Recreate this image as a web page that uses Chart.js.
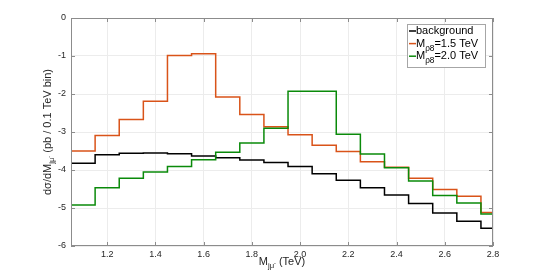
<!DOCTYPE html>
<html>
<head>
<meta charset="utf-8">
<script src="https://cdn.jsdelivr.net/npm/chart.js@4"></script>
<style>
  body { margin: 0; background: #fff; }
  #wrap { width: 545px; height: 278px; }
</style>
</head>
<body>
<div id="wrap"><canvas id="c" width="545" height="278"></canvas></div>
<script>
// bin edges (TeV); each value holds from its edge to the next one
const binEdges = [1.05, 1.15, 1.25, 1.35, 1.45, 1.55, 1.65, 1.75, 1.85, 1.95,
                  2.05, 2.15, 2.25, 2.35, 2.45, 2.55, 2.65, 2.75];
const xEnd = 2.8;

const background = [-3.82, -3.60, -3.56, -3.55, -3.57, -3.63, -3.68, -3.74, -3.80,
                    -3.91, -4.10, -4.27, -4.47, -4.66, -4.88, -5.13, -5.35, -5.53];
const rho15 = [-3.50, -3.09, -2.67, -2.19, -0.99, -0.94, -2.08, -2.54, -2.86,
               -3.07, -3.35, -3.51, -3.78, -3.93, -4.22, -4.51, -4.69, -5.12];
const rho20 = [-4.92, -4.47, -4.22, -4.05, -3.91, -3.73, -3.53, -3.29, -2.90,
               -1.93, -1.93, -3.06, -3.58, -3.94, -4.29, -4.67, -4.87, -5.16];

const xTicks = [1.2, 1.4, 1.6, 1.8, 2.0, 2.2, 2.4, 2.6, 2.8];
const yTicks = [-6, -5, -4, -3, -2, -1, 0];

const FONT = "'Liberation Sans', Arial, sans-serif";
const AXIS = "#8c8c8c";

function steps(vals) {
    const pts = binEdges.map((x, i) => ({ x, y: vals[i] }));
    pts.push({ x: xEnd, y: vals[vals.length - 1] });
    return pts;
}

// draws text pieces like "M" + subscript, left to right
function drawRich(ctx, parts, x, y, size) {
    let cx = x;
    parts.forEach(p => {
        const s = size * (p.scale || 1);
        ctx.font = s + "px " + FONT;
        ctx.fillText(p.t, cx, y + (p.dy || 0));
        cx += ctx.measureText(p.t).width;
    });
    return cx - x;
}
function richWidth(ctx, parts, size) {
    let w = 0;
    parts.forEach(p => {
        ctx.font = size * (p.scale || 1) + "px " + FONT;
        w += ctx.measureText(p.t).width;
    });
    return w;
}

const xLabel = [{ t: "M" }, { t: "jμ", scale: 0.7, dy: 4 }, { t: "-", scale: 0.5, dy: 1 }, { t: " (TeV)" }];
const yLabel = [{ t: "dσ/dM" }, { t: "jμ", scale: 0.7, dy: 4 }, { t: "-", scale: 0.5, dy: 1 }, { t: " (pb / 0.1 TeV bin)" }];

const legendItems = [
    { color: "#000000", parts: [{ t: "background" }] },
    { color: "#d95319", parts: [{ t: "M" }, { t: "ρ8", scale: 0.75, dy: 5 }, { t: "=1.5 TeV" }] },
    { color: "#0a8a0a", parts: [{ t: "M" }, { t: "ρ8", scale: 0.75, dy: 5 }, { t: "=2.0 TeV" }] }
];

const frame = {
    id: "frame",
    afterDatasetsDraw(chart) {
        const { ctx, chartArea: a, scales } = chart;
        ctx.save();
        ctx.strokeStyle = AXIS;
        ctx.lineWidth = 1;
        ctx.strokeRect(a.left + 0.5, a.top + 0.5, a.right - a.left - 1, a.bottom - a.top - 1);
        ctx.beginPath();
        xTicks.forEach(v => {
            const px = Math.round(scales.x.getPixelForValue(v)) + 0.5;
            ctx.moveTo(px, a.bottom); ctx.lineTo(px, a.bottom - 4);
            ctx.moveTo(px, a.top); ctx.lineTo(px, a.top + 4);
        });
        yTicks.forEach(v => {
            const py = Math.round(scales.y.getPixelForValue(v)) + 0.5;
            ctx.moveTo(a.left, py); ctx.lineTo(a.left + 4, py);
            ctx.moveTo(a.right, py); ctx.lineTo(a.right - 4, py);
        });
        ctx.stroke();

        // legend
        const lx = 407, ly = 24, lw = 78, lh = 43;
        ctx.fillStyle = "#fff";
        ctx.fillRect(lx, ly, lw, lh);
        ctx.strokeStyle = "#a6a6a6";
        ctx.strokeRect(lx + 0.5, ly + 0.5, lw, lh);
        ctx.textBaseline = "middle";
        legendItems.forEach((it, i) => {
            const y = ly + 7 + i * 12.6;
            ctx.strokeStyle = it.color;
            ctx.lineWidth = 1.5;
            ctx.beginPath();
            ctx.moveTo(409, y); ctx.lineTo(416, y);
            ctx.stroke();
            ctx.fillStyle = "#000";
            drawRich(ctx, it.parts, 416, y, 11);
        });

        // axis titles
        ctx.fillStyle = "#262626";
        ctx.textBaseline = "middle";
        const xw = richWidth(ctx, xLabel, 11);
        drawRich(ctx, xLabel, (a.left + a.right) / 2 - xw / 2, 262, 11);
        ctx.translate(48, (a.top + a.bottom) / 2);
        ctx.rotate(-Math.PI / 2);
        const yw = richWidth(ctx, yLabel, 11);
        drawRich(ctx, yLabel, -yw / 2, 0, 11);
        ctx.restore();
    }
};

const line = (label, vals, color, order) => ({
    label, data: steps(vals), borderColor: color, borderWidth: 1.5,
    stepped: "before", pointRadius: 0, fill: false, order
});

new Chart(document.getElementById("c"), {
    type: "line",
    data: {
        datasets: [
            line("background", background, "#000000", 3),
            line("M ρ8=1.5 TeV", rho15, "#d95319", 2),
            line("M ρ8=2.0 TeV", rho20, "#0a8a0a", 1)
        ]
    },
    options: {
        responsive: false,
        animation: false,
        layout: { padding: { left: 0, right: 52, top: 18, bottom: 0 } },
        plugins: { legend: { display: false }, tooltip: { enabled: false } },
        scales: {
            x: {
                type: "linear", min: 1.05, max: xEnd,
                afterBuildTicks: s => { s.ticks = xTicks.map(v => ({ value: v })); },
                afterFit: s => { s.height = 32; },
                grid: { color: "#ececec", drawTicks: false },
                border: { display: false },
                ticks: {
                    padding: 3, color: "#262626", maxRotation: 0,
                    font: { family: FONT, size: 9 },
                    callback: v => v.toFixed(1)
                }
            },
            y: {
                type: "linear", min: -6, max: 0,
                afterBuildTicks: s => { s.ticks = yTicks.map(v => ({ value: v })); },
                afterFit: s => { s.width = 71; },
                grid: { color: "#ececec", drawTicks: false },
                border: { display: false },
                ticks: {
                    padding: 5, color: "#262626",
                    font: { family: FONT, size: 9 },
                    callback: v => String(v)
                }
            }
        }
    },
    plugins: [frame]
});
</script>
</body>
</html>
